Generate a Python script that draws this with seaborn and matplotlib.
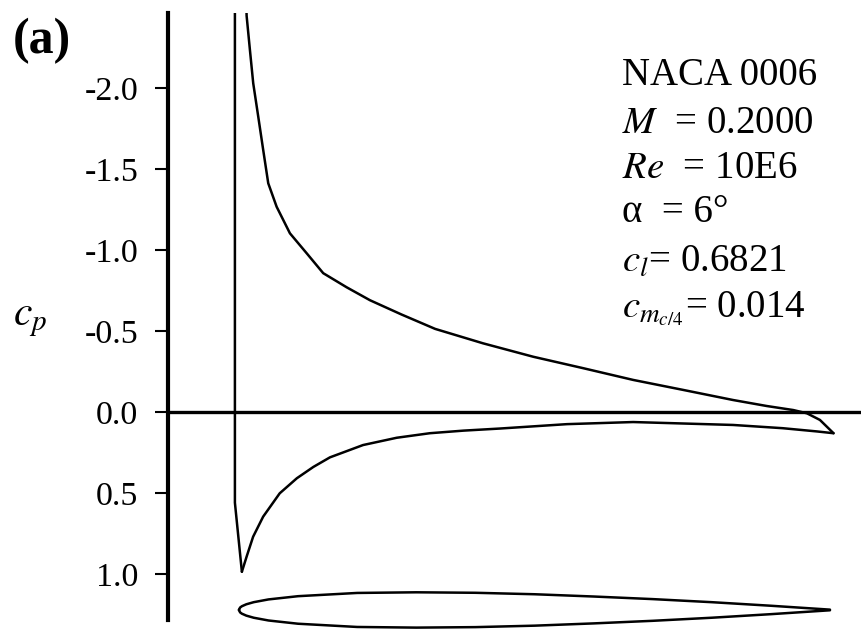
import pandas as pd
import seaborn as sns
import matplotlib.pyplot as plt

# Cp along the upper surface: stagnation point, up through the (clipped) suction peak, back to the TE
upper_x = [0.005, -0.0068, -0.0068, 0.003, 0.012, 0.013, 0.0186, 0.0242, 0.0327, 0.0411, 0.0496,
           0.0638, 0.0863, 0.1146, 0.1426, 0.1822, 0.2217, 0.275, 0.332, 0.413, 0.498, 0.583,
           0.667, 0.752, 0.836, 0.893, 0.938, 0.961, 0.983, 1.006]
upper_cp = [0.986, 0.56, -3.0, -3.6, -2.6, -2.446, -2.235, -2.029, -1.823, -1.617, -1.412,
            -1.267, -1.103, -0.980, -0.857, -0.770, -0.690, -0.602, -0.513, -0.424, -0.341, -0.270,
            -0.198, -0.136, -0.074, -0.037, -0.012, 0.008, 0.049, 0.131]

# Cp along the lower surface
lower_x = [0.005, 0.013, 0.024, 0.041, 0.069, 0.098, 0.126, 0.154, 0.210, 0.267, 0.323, 0.380,
           0.442, 0.555, 0.667, 0.836, 0.92, 0.978, 1.006]
lower_cp = [0.986, 0.893, 0.770, 0.646, 0.502, 0.409, 0.339, 0.280, 0.204, 0.159, 0.131, 0.115,
            0.102, 0.075, 0.062, 0.080, 0.100, 0.120, 0.131]

# airfoil outline drawn under the plot (half thickness in cp units)
foil_x = [0.0, 0.002, 0.005, 0.0125, 0.025, 0.05, 0.1, 0.2, 0.3, 0.4, 0.5, 0.6, 0.7, 0.8, 0.9, 1.0]
foil_half = [0.0, 0.015, 0.023, 0.035, 0.048, 0.065, 0.085, 0.105, 0.109, 0.106, 0.097, 0.083, 0.067, 0.048, 0.026, 0.002]
foil_center = 1.222

yticks = [-2.0, -1.5, -1.0, -0.5, 0.0, 0.5, 1.0]

info_lines = ["NACA 0006",
              r"$M$  = 0.2000",
              r"$Re$  = 10E6",
              "α  = 6°",
              r"$c_l$= 0.6821",
              r"$c_{m_{c/4}}$= 0.014"]

sns.set_theme(style="white")
plt.rcParams['font.family'] = ['Liberation Serif', 'DejaVu Serif']
plt.rcParams['mathtext.fontset'] = 'stix'
plt.rcParams['axes.unicode_minus'] = False
plt.rcParams['text.color'] = 'black'
plt.rcParams['ytick.color'] = 'black'

upper_df = pd.DataFrame({'x': upper_x, 'cp': upper_cp})
lower_df = pd.DataFrame({'x': lower_x, 'cp': lower_cp})
foil_df = pd.DataFrame({
    'x': foil_x + foil_x[::-1],
    'cp': [foil_center - h for h in foil_half] + [foil_center + h for h in foil_half[::-1]],
})

fig = plt.figure(figsize=(8.61, 6.29), dpi=100)
ax = fig.add_axes([168 / 861, 9 / 629, 1 - 168 / 861, 607 / 629])

ax.axhline(0, color='black', lw=2.4, zorder=1)
sns.lineplot(data=upper_df, x='x', y='cp', sort=False, estimator=None, color='black', lw=1.8, ax=ax)
sns.lineplot(data=lower_df, x='x', y='cp', sort=False, estimator=None, color='black', lw=1.8, ax=ax)
sns.lineplot(data=foil_df, x='x', y='cp', sort=False, estimator=None, color='black', lw=1.8,
             clip_on=False, ax=ax)

ax.set_xlim(-0.120, 1.0525)
ax.set_ylim(1.284, -2.463)
ax.set_xticks([])
ax.set_yticks(yticks)
ax.set_yticklabels([f"{t:.1f}" for t in yticks])
ax.tick_params(axis='y', direction='out', length=9.5, width=1.5, pad=12, labelsize=24.5,
               left=True, colors='black')
ax.set_xlabel('')
ax.set_ylabel('')
for side in ['top', 'right', 'bottom']:
    ax.spines[side].set_visible(False)
ax.spines['left'].set_linewidth(3)
ax.spines['left'].set_color('black')

fig.text(13 / 861, 1 - 53 / 629, "(a)", fontsize=36, fontweight='bold', va='baseline', ha='left')
fig.text(13 / 861, 1 - 325 / 629, r"$c_p$", fontsize=30, va='baseline', ha='left')

baselines = [85, 133, 178, 222, 272, 317]
for line, b in zip(info_lines, baselines):
    fig.text(622 / 861, 1 - b / 629, line, fontsize=28, va='baseline', ha='left')

fig.savefig('out.png', dpi=100)
